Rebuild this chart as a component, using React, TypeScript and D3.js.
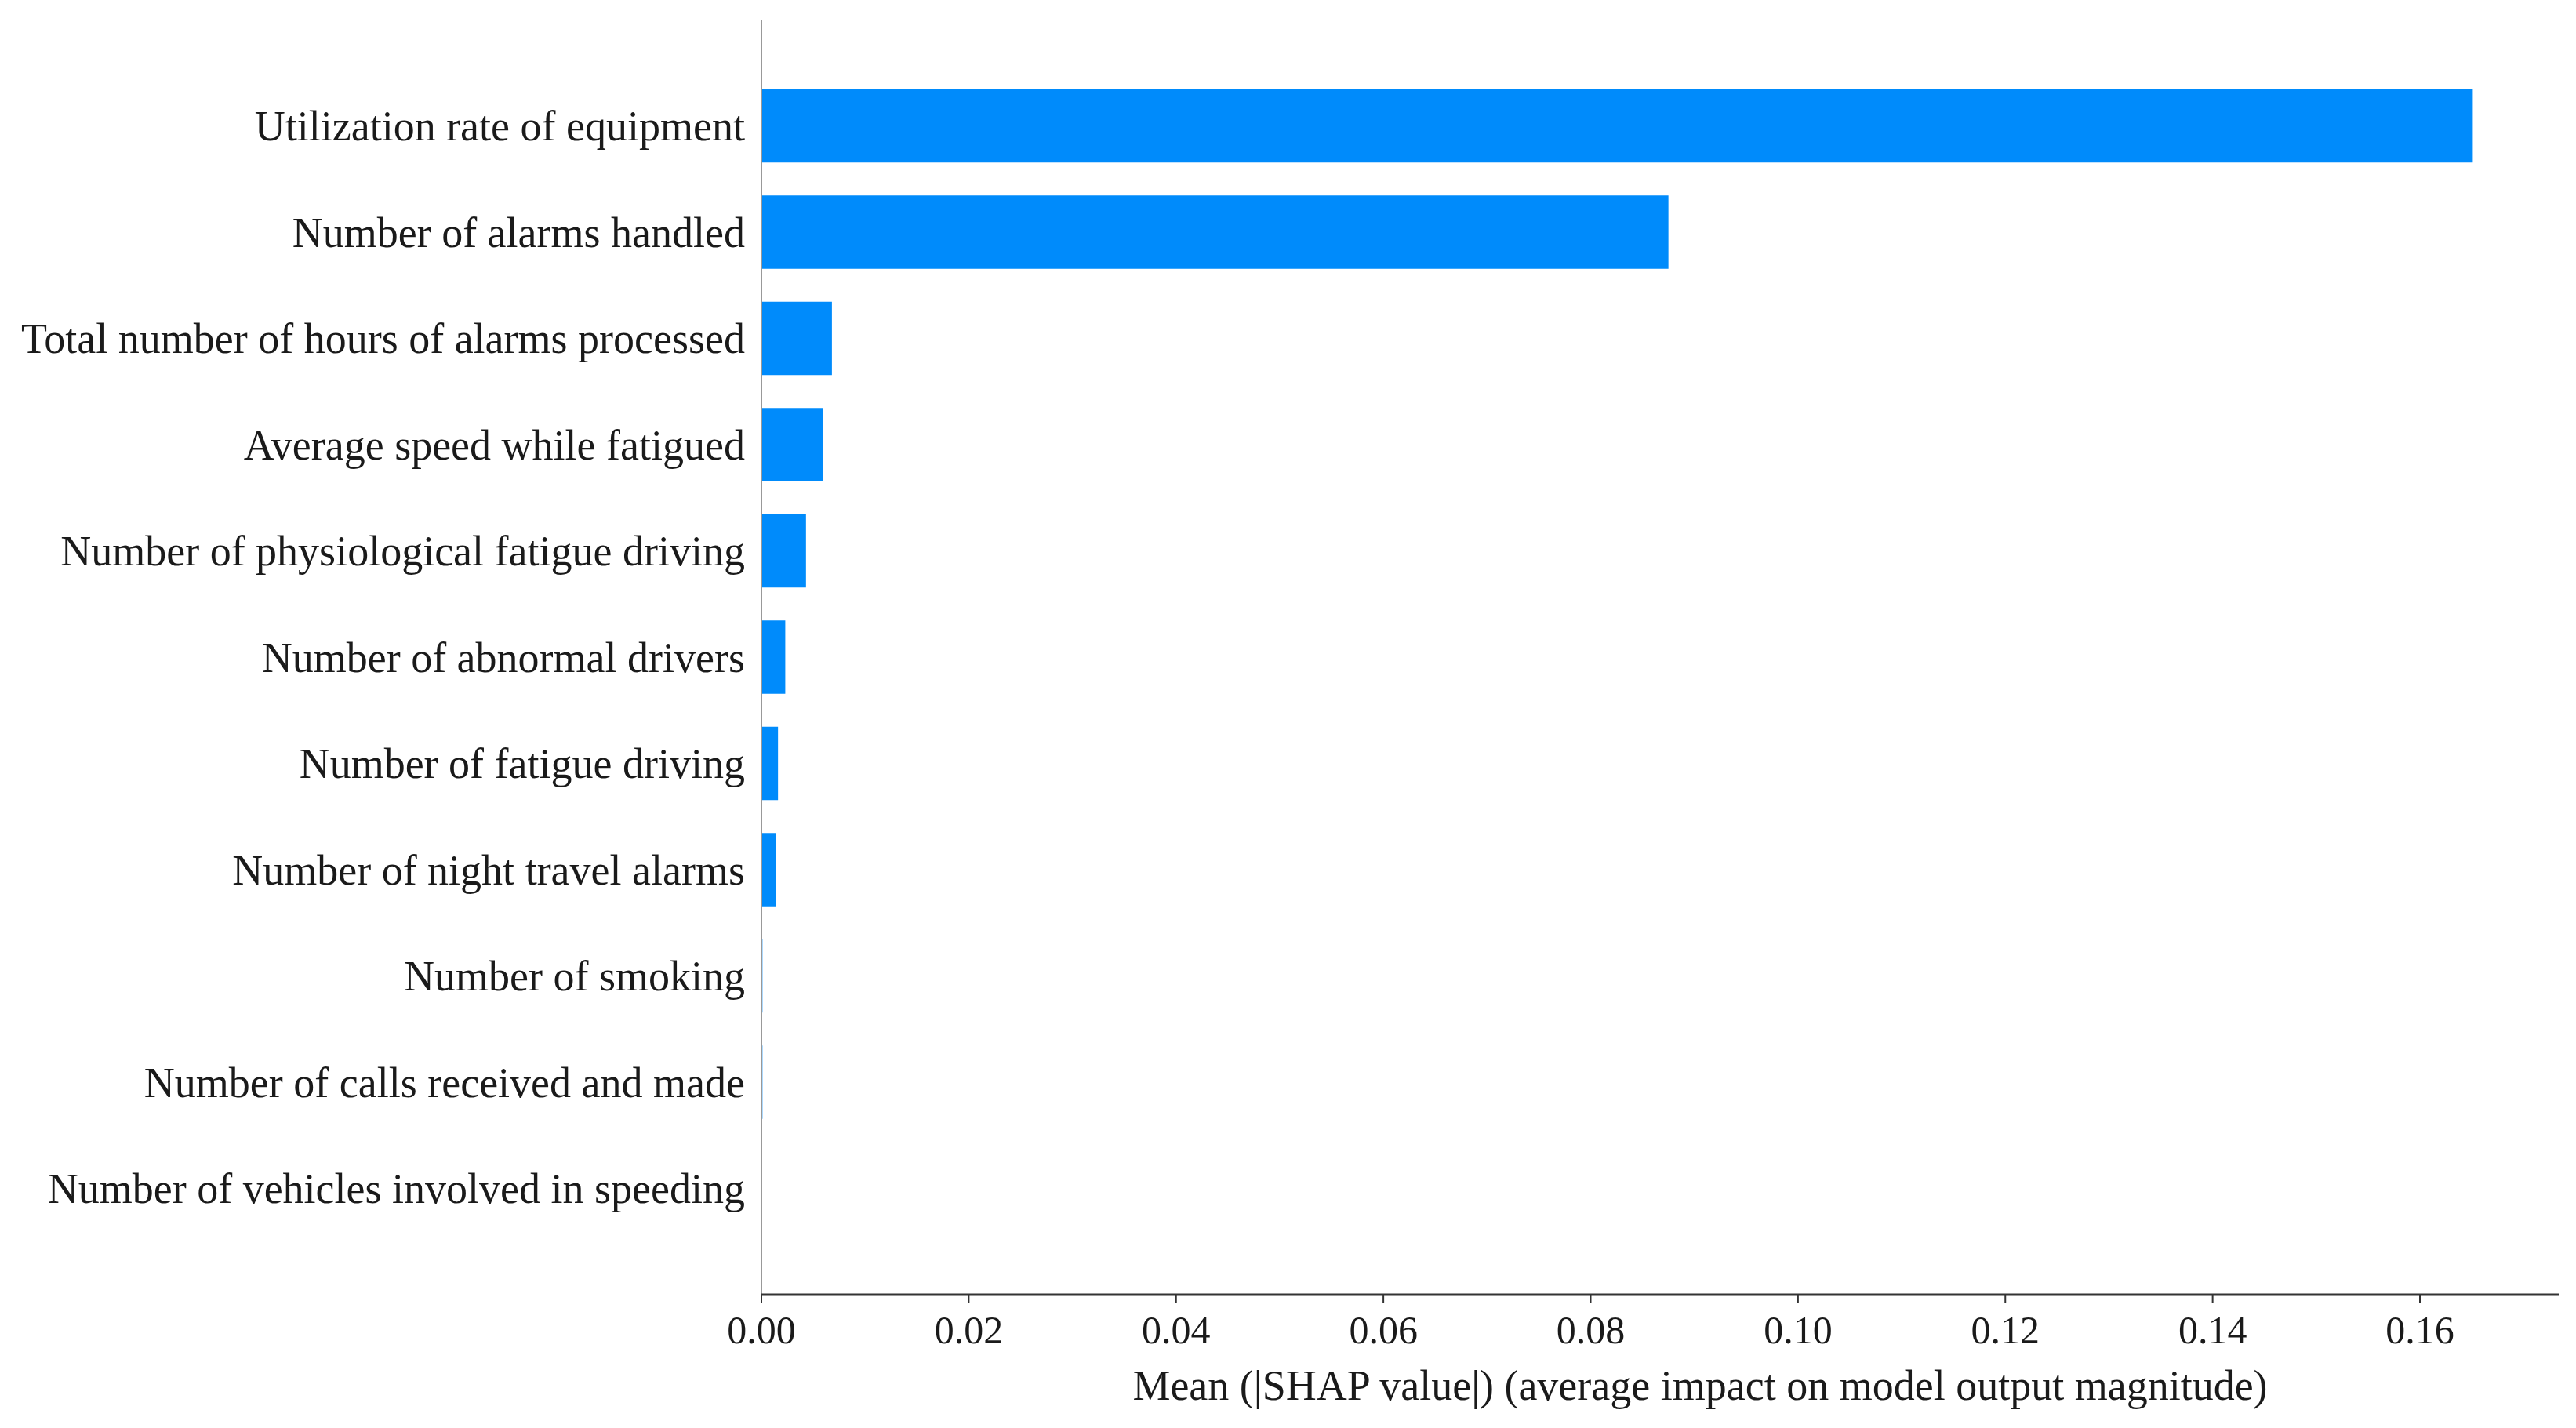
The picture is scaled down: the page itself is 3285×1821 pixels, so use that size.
import React from "react";
import * as d3 from "d3";

const features = [
  "Utilization rate of equipment",
  "Number of alarms handled",
  "Total number of hours of alarms processed",
  "Average speed while fatigued",
  "Number of physiological fatigue driving",
  "Number of abnormal drivers",
  "Number of fatigue driving",
  "Number of night travel alarms",
  "Number of smoking",
  "Number of calls received and made",
  "Number of vehicles involved in speeding",
];

const meanAbsShap = [0.1651, 0.0875, 0.0068, 0.0059, 0.0043, 0.0023, 0.0016, 0.0014, 0.0001, 0.0001, 0.0];

const xTicks = [0, 0.02, 0.04, 0.06, 0.08, 0.1, 0.12, 0.14, 0.16];

const xLabel = "Mean (|SHAP value|) (average impact on model output magnitude)";

const W = 3285;
const H = 1821;
const FONT = "'Liberation Serif', 'Times New Roman', serif";

export default function App() {
  const x0 = 971;
  const xAxisEnd = 3263;
  const yTop = 25;
  const yBottom = 1651;

  const x = d3.scaleLinear().domain([0, 0.16]).range([x0, 3086]);
  const y = d3.scaleLinear().domain([-1, features.length]).range([yTop, yBottom]);
  const pitch = y(1) - y(0);
  const barH = pitch * 0.69;

  return (
    <svg
      width={W}
      height={H}
      viewBox={`0 0 ${W} ${H}`}
      style={{ position: "absolute", left: 0, top: 0, background: "#fff" }}
    >
      <rect x={0} y={0} width={W} height={H} fill="#fff" />
      {/* bars */}
      {meanAbsShap.map((v, i) => (
        <rect
          key={i}
          x={x(0)}
          y={y(i) - barH / 2}
          width={Math.max(0, x(v) - x(0))}
          height={barH}
          fill="#008bfb"
        />
      ))}
      {/* vertical zero line */}
      <line x1={x0} x2={x0} y1={yTop} y2={yBottom} stroke="#999999" strokeWidth={2} />
      {/* bottom axis */}
      <line x1={x0} x2={xAxisEnd} y1={yBottom} y2={yBottom} stroke="#333333" strokeWidth={3} />
      {xTicks.map((t, i) => (
        <g key={i}>
          <line x1={x(t)} x2={x(t)} y1={yBottom} y2={yBottom + 10} stroke="#333333" strokeWidth={2} />
          <text
            x={x(t)}
            y={1713}
            textAnchor="middle"
            fontFamily={FONT}
            fontSize={50}
            fill="#1a1a1a"
          >
            {d3.format(".2f")(t)}
          </text>
        </g>
      ))}
      {/* feature labels */}
      {features.map((f, i) => (
        <text
          key={i}
          x={950}
          y={y(i)}
          dy="0.35em"
          textAnchor="end"
          fontFamily={FONT}
          fontSize={54}
          fill="#1a1a1a"
        >
          {f}
        </text>
      ))}
      <text
        x={2168}
        y={1785}
        textAnchor="middle"
        fontFamily={FONT}
        fontSize={54}
        fill="#1a1a1a"
      >
        {xLabel}
      </text>
    </svg>
  );
}
